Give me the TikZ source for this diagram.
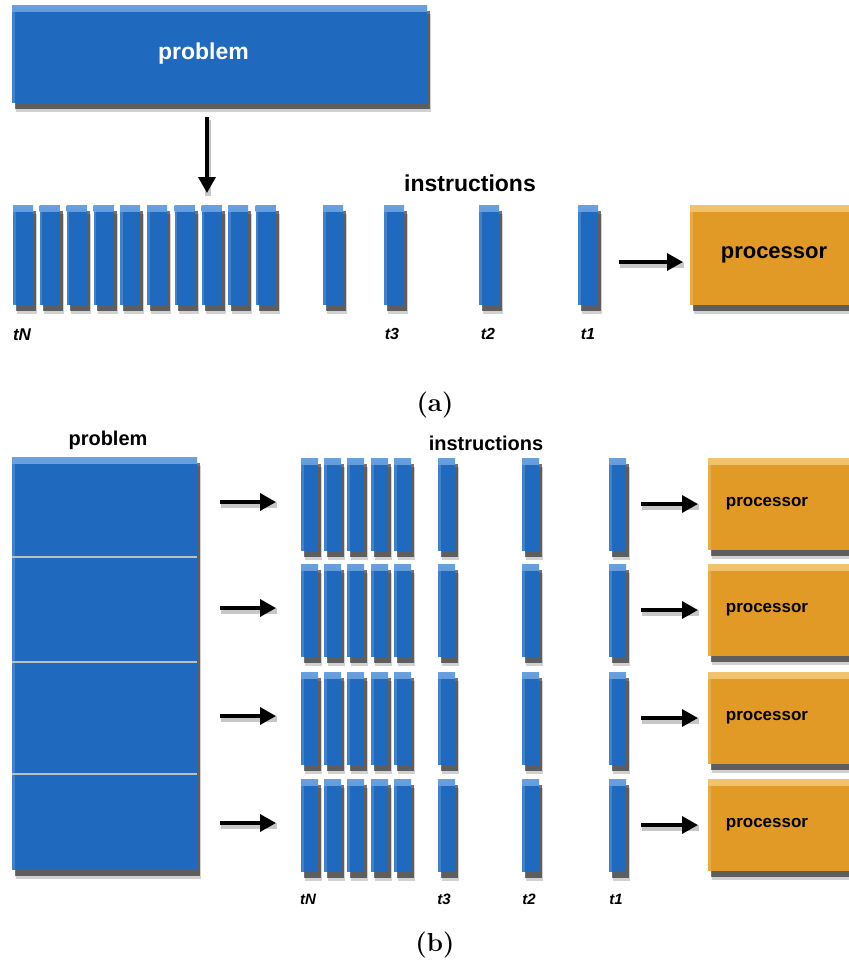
\documentclass[tikz,border=0pt]{standalone}
\usepackage{fontspec}
\newfontfamily\hv{Liberation Sans}
\usetikzlibrary{arrows.meta}

\definecolor{taskblue}{RGB}{31,105,190}
\definecolor{tasklight}{RGB}{105,160,222}
\definecolor{cpuorange}{RGB}{224,154,37}
\definecolor{cpulight}{RGB}{242,196,110}
\definecolor{divgray}{RGB}{190,190,190}

\tikzset{
  x=1pt, y=-1pt,
  softshadow/.style={
    preaction={fill=black, fill opacity=0.18, transform canvas={shift={(4pt,-9pt)}}},
    preaction={fill=black, fill opacity=0.55, transform canvas={shift={(3pt,-6pt)}}}},
  block/.style={rectangle, inner sep=0pt, outer sep=0pt, anchor=north west,
    softshadow, font=\hv\bfseries},
  bluebevel/.style={path picture={
    \shade[top color=tasklight, bottom color=taskblue]
      (path picture bounding box.north west) rectangle
      ([yshift=-6pt]path picture bounding box.north east);
    \fill[tasklight, fill opacity=0.45]
      (path picture bounding box.north west) rectangle
      ([xshift=2.5pt]path picture bounding box.south west);}},
  orangebevel/.style={path picture={
    \shade[top color=cpulight, bottom color=cpuorange]
      (path picture bounding box.north west) rectangle
      ([yshift=-6pt]path picture bounding box.north east);
    \fill[cpulight, fill opacity=0.45]
      (path picture bounding box.north west) rectangle
      ([xshift=2.5pt]path picture bounding box.south west);}},
  probbox/.style={block, fill=taskblue, bluebevel, text=white},
  cpubox/.style={block, fill=cpuorange, orangebevel, text=black},
  instbar/.style={block, fill=taskblue, bluebevel},
  flow/.style={line width=3.5pt, -{Triangle[length=16pt,width=17pt]},
    preaction={draw=black, draw opacity=0.22, line width=6pt, -,
      transform canvas={shift={(1pt,-3pt)}}}},
  tlabel/.style={inner sep=0pt},
  heading/.style={inner sep=0pt},
  caption/.style={font=\fontsize{26}{30}\selectfont\bfseries, inner sep=0pt}
}

\begin{document}
\begin{tikzpicture}
\clip (0,0) rectangle (849,970);
\fill[white] (0,0) rectangle (849,970);

% ---------------- (a) one processor, one instruction stream ----------------
\node[probbox, minimum width=415, minimum height=98,
      font=\hv\bfseries\fontsize{23}{26}\selectfont] (probA) at (12,5)
      {\hspace*{-32pt}problem};

\foreach \i/\x in {1/13,2/39.5,3/66.5,4/93.5,5/120,6/147,7/174.5,8/201.5,9/228,10/255.5}
  \node[instbar, minimum width=20, minimum height=100] (a\i) at (\x,205) {};
\node[instbar, minimum width=20, minimum height=100] (a11) at (323,205) {};
\node[instbar, minimum width=20, minimum height=100] (a12) at (384,205) {};
\node[instbar, minimum width=20, minimum height=100] (a13) at (479,205) {};
\node[instbar, minimum width=20, minimum height=100] (a14) at (578,205) {};

\node[cpubox, minimum width=180, minimum height=100,
      font=\hv\bfseries\fontsize{22}{26}\selectfont] (cpuA) at (690,205)
      {\hspace*{-12pt}processor};

\node[heading, font=\hv\bfseries\fontsize{23}{26}\selectfont] (instrA) at (470,183) {instructions};

\node[tlabel, font=\hv\bfseries\itshape\fontsize{17}{20}\selectfont] (tNa) at (22,335) {tN};
\node[tlabel, font=\hv\bfseries\itshape\fontsize{16}{19}\selectfont] (t3a) at (392,334) {t3};
\node[tlabel, font=\hv\bfseries\itshape\fontsize{16}{19}\selectfont] (t2a) at (488,334) {t2};
\node[tlabel, font=\hv\bfseries\itshape\fontsize{16}{19}\selectfont] (t1a) at (588,334) {t1};

\coordinate (downS) at (207,117);
\coordinate (downE) at (207,193);
\draw[flow] (downS) -- (downE);
\coordinate (feedA) at (619,262);
\coordinate (feedAend) at (683,262);
\draw[flow] (feedA) -- (feedAend);

\node[caption] (capA) at (435,405) {(a)};

% ---------------- (b) problem split over several processors ----------------
\node[heading, font=\hv\bfseries\fontsize{20}{24}\selectfont] (probBlabel) at (108,440) {problem};
\node[probbox, minimum width=185, minimum height=413] (probB) at (12,457) {};
\foreach \yy in {557,662,774}
  \draw[divgray, line width=1.2pt] (probB.west |- 0,\yy) -- (probB.east |- 0,\yy);

\node[heading, font=\hv\bfseries\fontsize{20}{24}\selectfont] (instrB) at (486,443) {instructions};

\foreach \r/\ty in {1/458,2/564,3/672,4/779}{
  \foreach \i/\x in {1/301,2/324,3/347,4/371,5/394,6/438,7/522,8/609}
    \node[instbar, minimum width=17, minimum height=93] (b\r\i) at (\x,\ty) {};
  \node[cpubox, minimum width=160, minimum height=92,
        font=\hv\bfseries\fontsize{17}{20}\selectfont] (cpu\r) at (708,\ty)
        {\hspace*{-42pt}processor};
  \coordinate (inL\r) at (220,\ty+44);
  \coordinate (inLend\r) at (276,\ty+44);
  \coordinate (inR\r) at (641,\ty+46);
  \coordinate (inRend\r) at (698,\ty+46);
  \draw[flow] (inL\r) -- (inLend\r);
  \draw[flow] (inR\r) -- (inRend\r);
}

\node[tlabel, font=\hv\bfseries\itshape\fontsize{15}{18}\selectfont] (tNb) at (308,899) {tN};
\node[tlabel, font=\hv\bfseries\itshape\fontsize{15}{18}\selectfont] (t3b) at (444,899) {t3};
\node[tlabel, font=\hv\bfseries\itshape\fontsize{15}{18}\selectfont] (t2b) at (529,899) {t2};
\node[tlabel, font=\hv\bfseries\itshape\fontsize{15}{18}\selectfont] (t1b) at (616,899) {t1};

\node[caption] (capB) at (435,945) {(b)};
\end{tikzpicture}
\end{document}
